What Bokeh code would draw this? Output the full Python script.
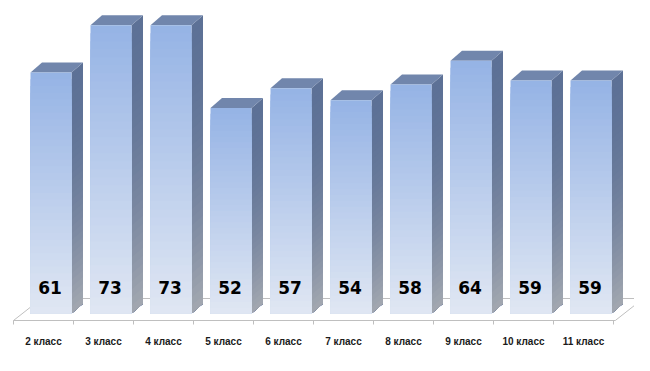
from bokeh.plotting import figure
from bokeh.models import Range1d, LinearAxis, FixedTicker
from bokeh.embed import file_html
from bokeh.resources import INLINE
from bokeh.core.properties import value

# ---- data ----
categories = ["2 класс", "3 класс", "4 класс", "5 класс", "6 класс",
              "7 класс", "8 класс", "9 класс", "10 класс", "11 класс"]
scores = [61, 73, 73, 52, 57, 54, 58, 64, 59, 59]

# ---- style constants ----
PXX = 60.0     # pixels per category
PXY = 3.95     # pixels per score unit
FRONT_L = 17 / PXX
FRONT_W = 41 / PXX
DDX = 11.5 / PXX
DDY = 10 / PXY
N = 36

FRONT_TOP = (0x95, 0xB3, 0xE5)
FRONT_BOT = (0xE0, 0xE7, 0xF3)
SIDE_TOP = (0x5D, 0x71, 0x96)
SIDE_BOT = (0xA3, 0xA8, 0xB0)
TOP_FACE = "#7186AC"


def mix(c1, c2, t):
    return "#%02x%02x%02x" % tuple(int(round(a + (b - a) * t)) for a, b in zip(c1, c2))


p = figure(width=634, height=355, output_backend="svg", toolbar_location=None,
           x_range=Range1d(-13 / PXX, -13 / PXX + 634 / PXX),
           y_range=Range1d(-12 / PXY, 313 / PXY),
           x_axis_location=None, y_axis_location=None,
           min_border_left=0, min_border_right=0, min_border_top=0, min_border_bottom=30)
p.outline_line_color = None
p.grid.visible = False
p.background_fill_color = "white"
p.border_fill_color = "white"

n = len(categories)

# floor
f_front = -7 / PXY
f_back = 15 / PXY
p.patch([0, n + 0.03, n + 0.03 + 28 / PXX, 28 / PXX],
        [f_front, f_front, f_back, f_back],
        fill_color="white", line_color="#bfbfbf", line_width=1)
# ticks on floor front edge
p.segment(x0=list(range(n + 1)), y0=[f_front] * (n + 1),
          x1=list(range(n + 1)), y1=[f_front - 4 / PXY] * (n + 1),
          line_color="#bfbfbf", line_width=1)

# bars
for i, v in enumerate(scores):
    x0 = i + FRONT_L
    x1 = x0 + FRONT_W
    # side face strips (drawn tallest first)
    xs, ys, cols = [], [], []
    for k in range(N - 1, -1, -1):
        h = v * (k + 1) / N
        t = 1 - (k + 0.5) / N  # fraction from top
        cols.append(mix(SIDE_TOP, SIDE_BOT, t ** 2))
        xs.append([x1, x1 + DDX, x1 + DDX, x1])
        ys.append([0, DDY, h + DDY, h])
    p.patches(xs, ys, fill_color=cols, line_color=None)
    # top face
    p.patch([x0, x0 + DDX, x1 + DDX, x1], [v, v + DDY, v + DDY, v],
            fill_color=TOP_FACE, line_color=None)
    # front face strips
    tops, cols = [], []
    for k in range(N - 1, -1, -1):
        tops.append(v * (k + 1) / N)
        cols.append(mix(FRONT_BOT, FRONT_TOP, (k + 0.5) / N))
    p.quad(left=[x0] * N, right=[x1] * N, bottom=[0] * N, top=tops,
           fill_color=cols, line_color=None)

# value labels
p.text(x=[i + FRONT_L + FRONT_W / 2 - 1 / PXX for i in range(n)], y=[26 / PXY] * n,
       text=[str(s) for s in scores],
       text_font=value("DejaVu Sans"), text_font_style="bold",
       text_font_size="17px", text_color="black",
       text_align="center", text_baseline="middle")

# category axis
ax = LinearAxis(ticker=FixedTicker(ticks=[i + 0.5 for i in range(n)]),
                major_label_overrides={i + 0.5: c for i, c in enumerate(categories)})
ax.axis_line_color = None
ax.major_tick_line_color = None
ax.minor_tick_line_color = None
ax.major_tick_out = 0
ax.major_tick_in = 0
ax.major_label_standoff = 10
ax.major_label_text_font = "Liberation Sans"
ax.major_label_text_font_style = "bold"
ax.major_label_text_font_size = "10px"
ax.major_label_text_color = "#1a1a1a"
p.add_layout(ax, "below")

open("out.html", "w").write(file_html(p, INLINE))
